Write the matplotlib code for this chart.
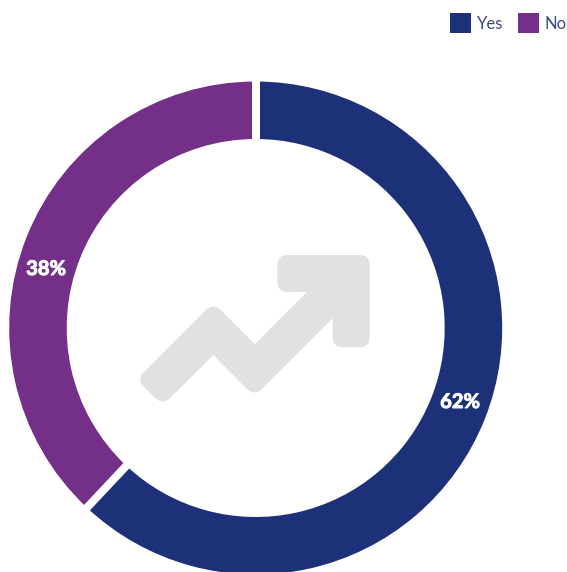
import numpy as np
import matplotlib
matplotlib.use("Agg")
import matplotlib.pyplot as plt
import matplotlib.patheffects as pe
from matplotlib.patches import PathPatch, Patch
from matplotlib.path import Path

categories = ["Yes", "No"]
values = [62, 38]
colors = ["#1c3177", "#743089"]
label_xy = [(460, 402), (46, 269)]

W, H = 567, 572
CX, CY, R_OUT, R_IN = 255.7, H - 328, 246.5, 189
GAP = 8

plt.rcParams["font.family"] = ["Lato", "DejaVu Sans"]
fig = plt.figure(figsize=(W / 100, H / 100), dpi=100)
ax = fig.add_axes([0, 0, 1, 1])

ax.pie(values, colors=colors, startangle=90, counterclock=False,
       center=(CX, CY), radius=R_OUT, frame=True,
       wedgeprops=dict(width=R_OUT - R_IN, linewidth=0))
ax.set_xlim(0, W)
ax.set_ylim(0, H)
ax.set_aspect("equal")
ax.axis("off")

# white separators on the slice boundaries
fractions = np.cumsum(values) / np.sum(values)
for f in fractions:
    a = 2 * np.pi * f
    dx, dy = np.sin(a), np.cos(a)
    ax.plot([CX + (R_IN - 3) * dx, CX + (R_OUT + 3) * dx],
            [CY + (R_IN - 3) * dy, CY + (R_OUT + 3) * dy],
            color="white", lw=GAP * 0.72, solid_capstyle="butt", zorder=5)

for v, (x, y) in zip(values, label_xy):
    ax.text(x, H - y, f"{v}%", color="white", fontsize=14.5, fontweight="bold",
            ha="center", va="center", zorder=6,
            path_effects=[pe.withStroke(linewidth=0.7, foreground="white")])


def rounded_path(points):
    """Closed path through (x, y, radius) corners, in top-down pixel coordinates."""
    verts, codes = [], []
    n = len(points)
    for i, (x, y, r) in enumerate(points):
        p = np.array([x, H - y], float)
        if r == 0:
            verts.append(p)
            codes.append(Path.MOVETO if i == 0 else Path.LINETO)
            continue
        prev = np.array([points[i - 1][0], H - points[i - 1][1]], float)
        nxt = np.array([points[(i + 1) % n][0], H - points[(i + 1) % n][1]], float)
        a = p + (prev - p) / np.linalg.norm(prev - p) * r
        b = p + (nxt - p) / np.linalg.norm(nxt - p) * r
        verts += [a, p, b]
        codes += [Path.MOVETO if i == 0 else Path.LINETO, Path.CURVE3, Path.CURVE3]
    verts.append(verts[0])
    codes.append(Path.CLOSEPOLY)
    return Path(verts, codes)


# trend-arrow icon in the middle of the ring
arrow = [
    (277.5, 255, 10), (369.7, 255, 10), (369.7, 347.3, 10), (332.7, 347.3, 10),
    (332.7, 318.3, 0), (254.3, 396.5, 11), (213.3, 355, 0), (162.7, 405.5, 11),
    (136.5, 379.5, 10), (213.3, 302.5, 11), (255, 344.3, 0), (306.7, 292, 0),
    (277.5, 292, 10),
]
ax.add_patch(PathPatch(rounded_path(arrow), facecolor="#e1e1e1", edgecolor="none", zorder=3))

handles = [Patch(facecolor=c, edgecolor="none", label=n) for c, n in zip(colors, categories)]
fig.legend(handles=handles, loc="upper right", bbox_to_anchor=(1.0, 1 - 13 / H), ncol=2,
           frameon=False, fontsize=12, labelcolor="#3c4a80", handlelength=1.26,
           handleheight=1.47, handletextpad=0.36, columnspacing=0.9,
           borderpad=0, borderaxespad=0)

fig.savefig("out.png", dpi=100)
